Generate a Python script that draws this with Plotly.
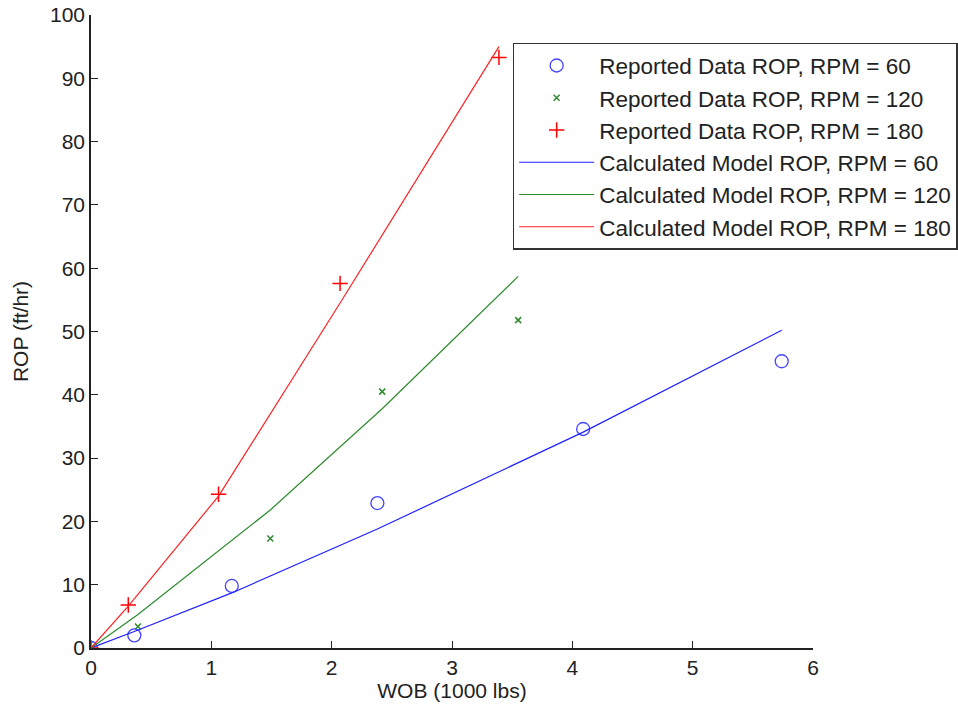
import plotly.graph_objects as go

# Reported data
wob_60 = [0, 0.36, 1.17, 2.38, 4.09, 5.74]
rop_60 = [0, 2.0, 9.8, 22.9, 34.6, 45.3]
wob_120 = [0, 0.39, 1.49, 2.42, 3.55]
rop_120 = [0, 3.4, 17.3, 40.5, 51.8]
wob_180 = [0, 0.31, 1.06, 2.07, 3.39]
rop_180 = [0, 6.8, 24.3, 57.6, 93.3]

# Calculated model
model_60 = [0, 2.6, 8.7, 18.8, 34.1, 50.2]
model_120 = [0, 5.3, 21.8, 37.8, 58.7]
model_180 = [0, 6.6, 24.0, 54.5, 95.0]

x_ticks = [0, 1, 2, 3, 4, 5, 6]
y_ticks = [0, 10, 20, 30, 40, 50, 60, 70, 80, 90, 100]

BLUE = "#2020ff"
GREEN = "#2e8b2e"
RED = "#ff2020"
FONT = "Liberation Sans, Arial"
FS = 21

fig = go.Figure()
fig.add_trace(go.Scatter(x=wob_60, y=rop_60, mode="markers", name="Reported Data ROP, RPM = 60",
                         marker=dict(symbol="circle-open", size=13, color="#4444ff", line=dict(width=1.3)),
                         legendgroup="a"))
fig.add_trace(go.Scatter(x=wob_120, y=rop_120, mode="markers", name="Reported Data ROP, RPM = 120",
                         marker=dict(symbol="x-thin-open", size=6, color=GREEN, line=dict(width=1.5)),
                         legendgroup="b"))
fig.add_trace(go.Scatter(x=wob_180, y=rop_180, mode="markers", name="Reported Data ROP, RPM = 180",
                         marker=dict(symbol="cross-thin-open", size=11, color="#ff0000", line=dict(width=1.5)),
                         legendgroup="c"))
fig.add_trace(go.Scatter(x=wob_60, y=model_60, mode="lines", name="Calculated Model ROP, RPM = 60",
                         line=dict(color=BLUE, width=1.2), legendgroup="d"))
fig.add_trace(go.Scatter(x=wob_120, y=model_120, mode="lines", name="Calculated Model ROP, RPM = 120",
                         line=dict(color=GREEN, width=1.2), legendgroup="e"))
fig.add_trace(go.Scatter(x=wob_180, y=model_180, mode="lines", name="Calculated Model ROP, RPM = 180",
                         line=dict(color=RED, width=1.2), legendgroup="f"))

axis_common = dict(
    showline=True, linecolor="#222", linewidth=1.5, mirror=False,
    ticks="inside", ticklen=7, tickcolor="#222", tickwidth=1.2,
    showgrid=False, zeroline=False, automargin=False,
    tickfont=dict(family=FONT, size=FS, color="#222"),
)

fig.update_layout(
    width=958, height=710,
    margin=dict(l=91, r=145, t=15, b=62, autoexpand=False),
    paper_bgcolor="white", plot_bgcolor="white",
    font=dict(family=FONT, size=FS, color="#222"),
    xaxis=dict(range=[0, 6], tickvals=x_ticks,
               title=dict(text="WOB (1000 lbs)", font=dict(size=FS), standoff=4), **axis_common),
    yaxis=dict(range=[0, 100], tickvals=y_ticks,
               title=dict(text="ROP (ft/hr)", font=dict(size=FS), standoff=16), **axis_common),
    legend=dict(x=0.584, y=0.956, xanchor="left", yanchor="top",
                bordercolor="#333", borderwidth=1.5, bgcolor="white",
                font=dict(size=22.5, color="#222"), tracegroupgap=2,
                itemwidth=75, traceorder="normal"),
    showlegend=True,
)

fig.write_html("out.html")
